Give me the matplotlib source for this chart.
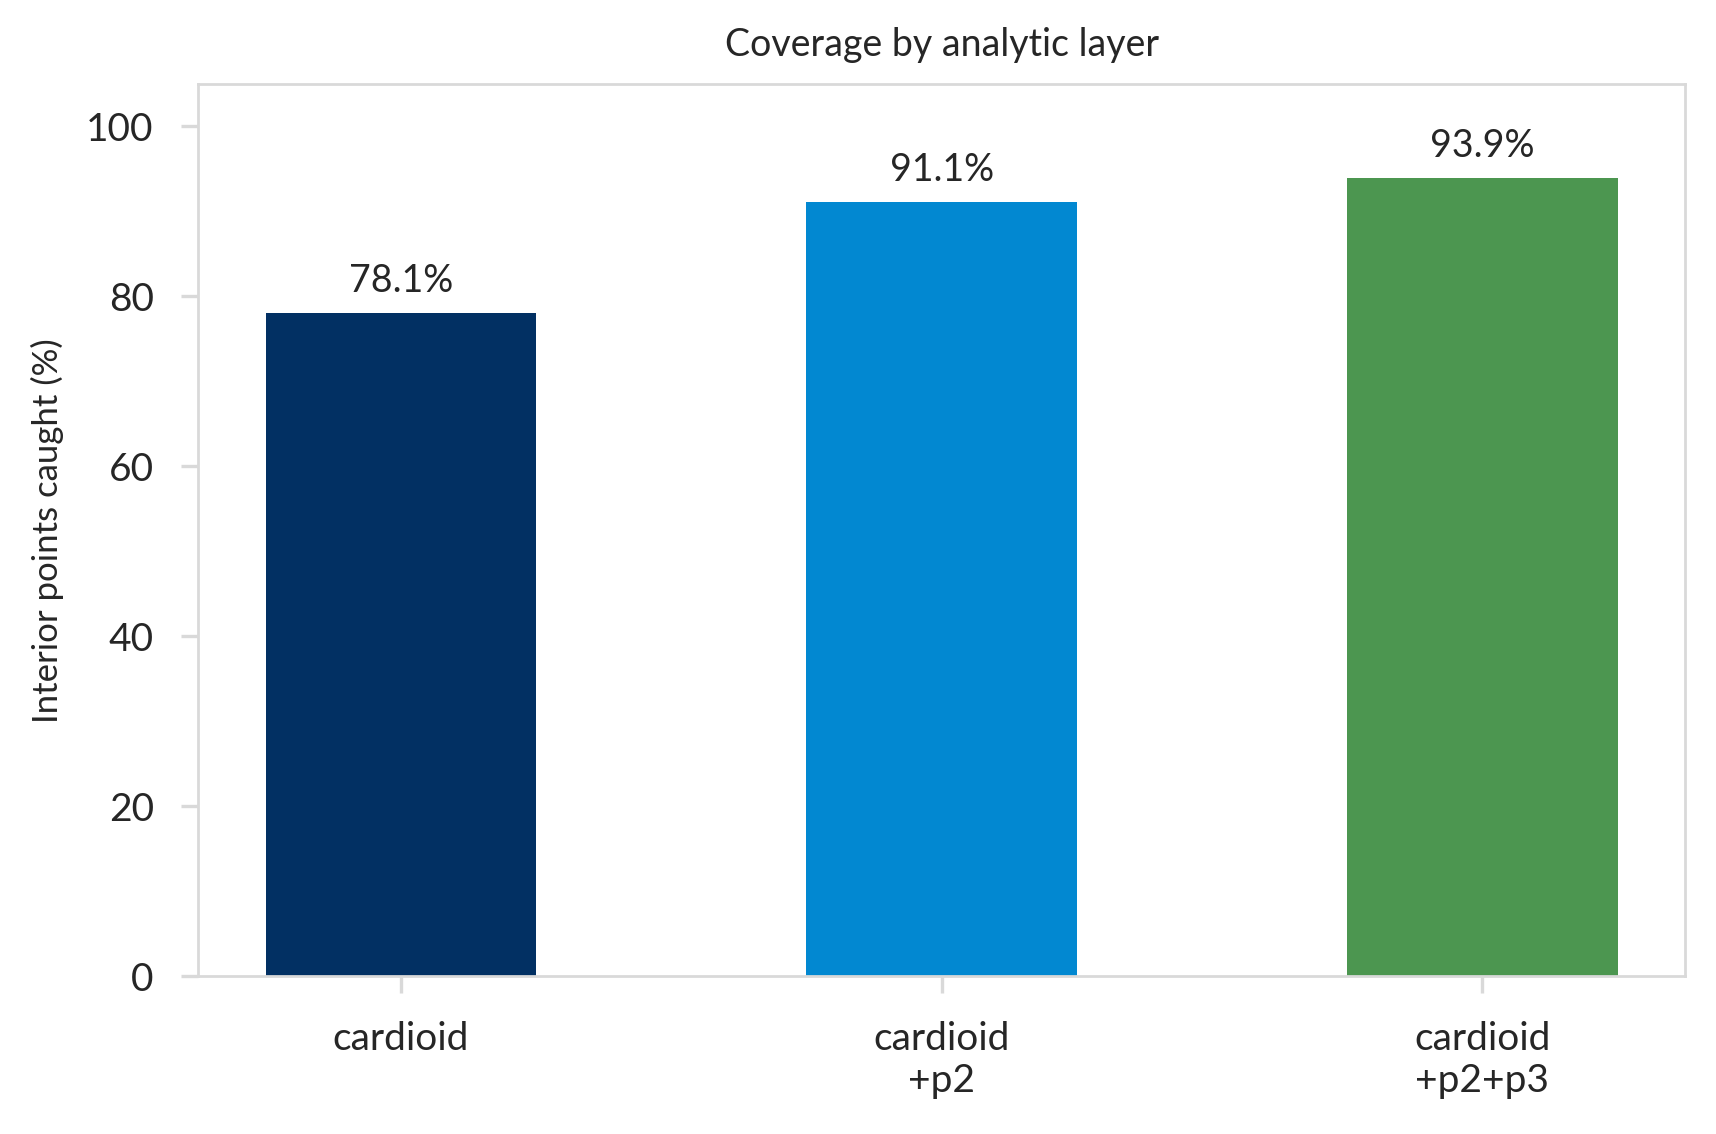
import matplotlib
matplotlib.use("Agg")
import matplotlib.pyplot as plt

plt.rcParams["font.family"] = ["Lato", "DejaVu Sans"]

categories = ["cardioid", "cardioid\n+p2", "cardioid\n+p2+p3"]
coverage = [78.1, 91.1, 93.9]
bar_colors = ["#023063", "#0288d1", "#4c9650"]
yticks = [0, 20, 40, 60, 80, 100]

TEXT = "#262626"
GRID = "#d9d9d9"

fig, ax = plt.subplots(figsize=(8.58, 5.67), dpi=200)
fig.subplots_adjust(left=0.1155, right=0.982, bottom=0.139, top=0.926)

x = range(len(categories))
bars = ax.bar(x, coverage, width=0.5, color=bar_colors)
ax.bar_label(bars, labels=[f"{v:.1f}%" for v in coverage],
             padding=5, fontsize=13.5, color=TEXT)

ax.set_ylim(0, 105)
ax.set_yticks(yticks)
ax.set_xticks(list(x))
ax.set_xticklabels(categories)

for side in ["left", "right", "top", "bottom"]:
    ax.spines[side].set_color(GRID)
    ax.spines[side].set_linewidth(1.0)

ax.tick_params(axis="both", colors=GRID, length=6, width=1.2,
               labelcolor=TEXT, labelsize=14)
ax.tick_params(axis="y", pad=10)
ax.tick_params(axis="x", pad=10)

ax.set_ylabel("Interior points caught (%)", fontsize=12.5, color=TEXT, labelpad=8)
ax.set_title("Coverage by analytic layer", fontsize=13.5, color=TEXT, pad=10)

fig.savefig("out.png", dpi=200)
